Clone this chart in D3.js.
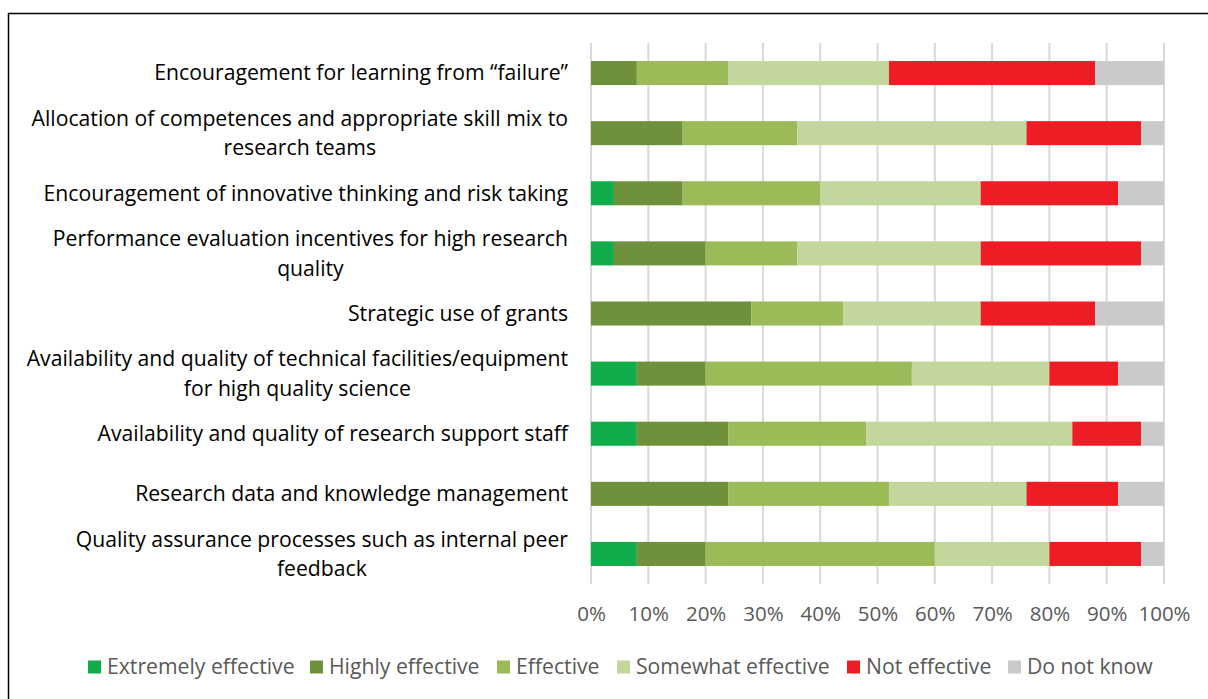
<!DOCTYPE html>
<html><head><meta charset="utf-8">
<script src="https://cdn.jsdelivr.net/npm/d3@7"></script>
<style>body{margin:0;background:#fff;} svg{display:block;font-family:"Open Sans", sans-serif;}</style>
</head><body><svg id="c" width="1208" height="699"></svg>
<script>
const categories = [
  ["Encouragement for learning from \u201cfailure\u201d"],
  ["Allocation of competences and appropriate skill mix to", "research teams"],
  ["Encouragement of innovative thinking and risk taking"],
  ["Performance evaluation incentives for high research", "quality"],
  ["Strategic use of grants"],
  ["Availability and quality of technical facilities/equipment", "for high quality science"],
  ["Availability and quality of research support staff"],
  ["Research data and knowledge management"],
  ["Quality assurance processes such as internal peer", "feedback"]
];
const seriesNames = ["Extremely effective","Highly effective","Effective","Somewhat effective","Not effective","Do not know"];
const extremely = [0, 0, 4, 4, 0, 8, 8, 0, 8];
const highly    = [8, 16, 12, 16, 28, 12, 16, 24, 12];
const effective = [16, 20, 24, 16, 16, 36, 24, 28, 40];
const somewhat  = [28, 40, 28, 32, 24, 24, 36, 24, 20];
const notEff    = [36, 20, 24, 28, 20, 12, 12, 16, 16];
const dontKnow  = [12, 4, 8, 4, 12, 8, 4, 8, 4];
const ticks = [0,10,20,30,40,50,60,70,80,90,100];
const colors = ["#12ad4b","#70913b","#9bbb59","#c3d69b","#ee1c25","#cacaca"];

const series = [extremely, highly, effective, somewhat, notEff, dontKnow];
const svg = d3.select("#c");

// frame
svg.append("rect").attr("x",8.5).attr("y",13.5).attr("width",1300).attr("height",800)
  .attr("fill","none").attr("stroke","#000").attr("stroke-width",1.5);

const x = d3.scaleLinear().domain([0,100]).range([591,1164]);
const y = d3.scaleBand().domain(d3.range(categories.length)).range([43,584]).paddingInner(0.6).paddingOuter(0.3);

// gridlines
svg.append("g").selectAll("line").data(ticks).join("line")
  .attr("x1",d=>x(d)).attr("x2",d=>x(d)).attr("y1",43).attr("y2",584)
  .attr("stroke","#d9d9d9").attr("stroke-width",2);

// bars
const rows = categories.map((c,i)=>{
  let acc=0; return series.map((s,k)=>{const r={i,k,x0:acc,x1:acc+s[i]}; acc+=s[i]; return r;});
}).flat();
svg.append("g").selectAll("rect").data(rows.filter(r=>r.x1>r.x0)).join("rect")
  .attr("x",r=>x(r.x0)).attr("width",r=>x(r.x1)-x(r.x0))
  .attr("y",r=>y(r.i)).attr("height",y.bandwidth())
  .attr("fill",r=>colors[r.k]);

// axis labels
const ax = d3.axisBottom(x).tickValues(ticks).tickFormat(d=>d+"%").tickSize(0).tickPadding(0);
const gA = svg.append("g").attr("transform","translate(0,621)").call(ax);
gA.select(".domain").remove();
gA.selectAll("text").attr("fill","#595959").style("font-size","20.5px").style("font-family","Open Sans").attr("dy",0);

// category labels
const lab = svg.append("g");
categories.forEach((lines,i)=>{
  const cy = y(i)+y.bandwidth()/2;
  const lh = 29.5;
  const g = lab.append("g");
  const t = g.append("text").attr("fill","#000").style("font-size","21.2px").attr("text-anchor","middle");
  lines.forEach((ln,j)=>{
    t.append("tspan").attr("x",0).attr("y",cy - (lines.length-1)*lh/2 + j*lh).attr("dy","0.35em").text(ln);
  });
  const w = d3.max(t.selectAll("tspan").nodes(), n=>n.getComputedTextLength());
  t.attr("transform",`translate(${568 - w/2},0)`);
});

// legend
const legX = [88,310,497,617,847,1008];
const lg = svg.append("g");
seriesNames.forEach((n,k)=>{
  lg.append("rect").attr("x",legX[k]).attr("y",660.5).attr("width",13).attr("height",13).attr("fill",colors[k]);
  lg.append("text").attr("x",legX[k]+19).attr("y",667).attr("dy","0.35em").attr("fill","#595959")
    .style("font-size","21.2px").text(n);
});
</script></body></html>
